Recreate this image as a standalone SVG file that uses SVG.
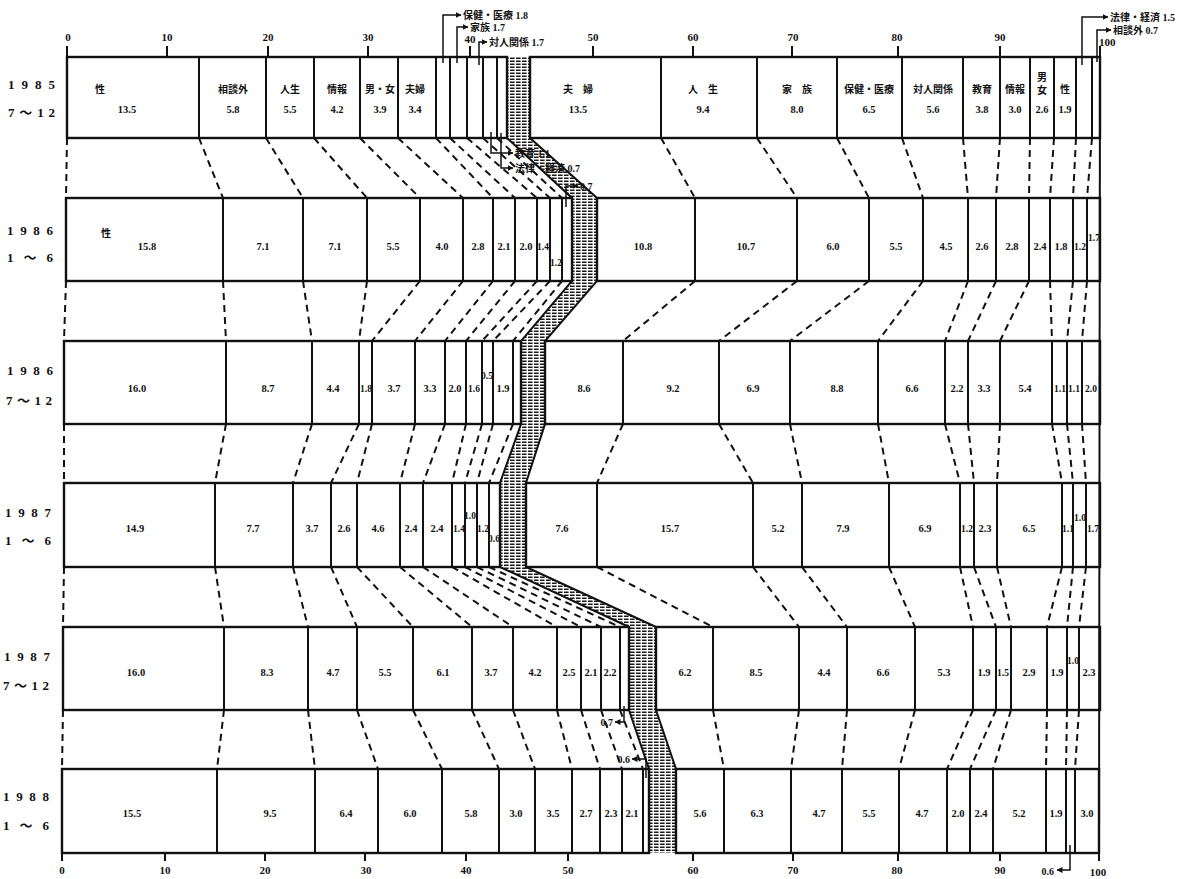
<svg xmlns="http://www.w3.org/2000/svg" width="1193" height="879" viewBox="0 0 1193 879">
<defs>
<pattern id="hatch" width="6" height="3" patternUnits="userSpaceOnUse"><rect x="0" y="0.5" width="4.6" height="1.5" fill="#1a1a1a"/></pattern>
<marker id="arr" viewBox="0 0 6 6" refX="5.5" refY="3" markerWidth="6" markerHeight="6" markerUnits="userSpaceOnUse" orient="auto"><path d="M0,0L6,3L0,6z" fill="#111"/></marker>
<style>
.bar{fill:none;stroke:#111;stroke-width:2.4}
.div{fill:none;stroke:#111;stroke-width:2}
.dash{fill:none;stroke:#111;stroke-width:2;stroke-dasharray:7 5}
.edge{fill:none;stroke:#111;stroke-width:2}
.ann{fill:none;stroke:#111;stroke-width:1.5}
.t{font-family:"Liberation Serif","Noto Sans CJK JP",serif;font-weight:bold;font-size:10.5px;text-anchor:middle;fill:#111}
.s{font-size:9.5px}
.n{font-family:"Noto Sans CJK JP","Liberation Sans",sans-serif;font-weight:bold;font-size:10px;text-anchor:middle;fill:#111}
.a{font-family:"Liberation Serif","Noto Sans CJK JP",serif;font-weight:bold;font-size:10px;fill:#111}
.ax{font-family:"Liberation Serif",serif;font-weight:bold;font-size:11px;text-anchor:middle;fill:#111}
.row{font-family:"Liberation Serif","Noto Sans CJK JP",serif;font-weight:bold;font-size:13px;fill:#111}
</style>
</defs>
<rect width="1193" height="879" fill="#fff"/>

<g id="axis-top">
<path class="div" d="M67 46V57M167 46V57M268 46V57M368 46V57M470 46V57M593 46V57M693 46V57M792 46V57M898 46V57M1000 46V57M1100 46V57"/>
<text class="ax" x="68" y="41">0</text><text class="ax" x="167" y="41">10</text><text class="ax" x="268" y="41">20</text><text class="ax" x="368" y="41">30</text><text class="ax" x="470" y="43">40</text><text class="ax" x="593" y="41">50</text><text class="ax" x="693" y="41">60</text><text class="ax" x="793" y="41">70</text><text class="ax" x="897" y="41">80</text><text class="ax" x="1000" y="41">90</text><text class="ax" x="1099" y="46" style="text-anchor:start">100</text>
</g>

<g id="axis-bottom">
<path class="div" d="M62 853V861M165 853V861M265 853V861M365 853V861M466 853V861M568 853V861M693 853V861M793 853V861M898 853V861M1000 853V861M1099 853V861"/>
<text class="ax" x="62" y="874">0</text><text class="ax" x="165" y="874">10</text><text class="ax" x="265" y="874">20</text><text class="ax" x="366" y="874">30</text><text class="ax" x="466" y="874">40</text><text class="ax" x="568" y="874">50</text><text class="ax" x="693" y="874">60</text><text class="ax" x="793" y="874">70</text><text class="ax" x="897" y="874">80</text><text class="ax" x="1000" y="874">90</text><text class="ax" x="1098" y="876">100</text>
</g>

<g id="no-answer-band">
<polygon points="507,57 507,138 572,198 572,281 521,341 521,424 500,483 500,567 629,627 629,710 649,769 649,853 676,853 676,769 656,710 656,627 526,567 526,483 545,424 545,341 597,281 597,198 530,138 530,57" fill="url(#hatch)"/>
<polyline class="edge" points="507,57 507,138 572,198 572,281 521,341 521,424 500,483 500,567 629,627 629,710 649,769 649,853"/>
<polyline class="edge" points="530,57 530,138 597,198 597,281 545,341 545,424 526,483 526,567 656,627 656,710 676,769 676,853"/>
</g>

<g id="connectors">
<line class="edge" x1="1100" y1="57" x2="1099" y2="853"/>
<path class="dash" d="M67 138L66 198M199 138L223 198M266 138L303 198M314 138L367 198M360 138L420 198M398 138L463 198M436 138L493 198M450 138L515 198M467 138L537 198M483 138L550 198M497 138L562 198M661 138L695 198M757 138L797 198M837 138L869 198M902 138L923 198M963 138L968 198M1000 138L996 198M1030 138L1029 198M1054 138L1050 198M1076 138L1073 198M1092 138L1087 198"/>
<path class="dash" d="M66 281L64 341M223 281L226 341M303 281L312 341M367 281L359 341M420 281L372 341M463 281L415 341M493 281L445 341M515 281L466 341M537 281L482 341M550 281L493 341M562 281L513 341M695 281L623 341M797 281L719 341M869 281L790 341M923 281L878 341M968 281L945 341M996 281L968 341M1029 281L1000 341M1050 281L1052 341M1073 281L1067 341M1087 281L1082 341"/>
<path class="dash" d="M64 424L64 483M226 424L215 483M312 424L293 483M359 424L331 483M372 424L357 483M415 424L400 483M445 424L423 483M466 424L452 483M482 424L465 483M493 424L477 483M513 424L489 483M623 424L597 483M719 424L753 483M790 424L802 483M878 424L889 483M945 424L960 483M968 424L974 483M1000 424L997 483M1052 424L1062 483M1067 424L1073 483M1082 424L1086 483"/>
<path class="dash" d="M64 567L63 627M215 567L224 627M293 567L308 627M331 567L357 627M357 567L413 627M400 567L472 627M423 567L513 627M452 567L557 627M465 567L581 627M477 567L601 627M489 567L620 627M597 567L713 627M753 567L799 627M802 567L847 627M889 567L915 627M960 567L973 627M974 567L996 627M997 567L1011 627M1062 567L1047 627M1073 567L1067 627M1086 567L1079 627"/>
<path class="dash" d="M63 710L62 769M224 710L217 769M308 710L315 769M357 710L378 769M413 710L442 769M472 710L499 769M513 710L535 769M557 710L572 769M581 710L600 769M601 710L622 769M620 710L643 769M713 710L724 769M799 710L791 769M847 710L842 769M915 710L899 769M973 710L947 769M996 710L970 769M1011 710L993 769M1047 710L1046 769M1067 710L1066 769M1079 710L1075 769"/>
</g>

<g id="row-1985-7-12">
<rect class="bar" x="67" y="57" width="440" height="81"/>
<rect class="bar" x="530" y="57" width="570" height="81"/>
<path class="div" d="M199 57V138M266 57V138M314 57V138M360 57V138M398 57V138M436 57V138M450 57V138M467 57V138M483 57V138M497 57V138M661 57V138M757 57V138M837 57V138M902 57V138M963 57V138M1000 57V138M1030 57V138M1054 57V138M1076 57V138M1092 57V138"/>
<text class="row" x="8" y="89" textLength="47" lengthAdjust="spacing">1 9 8 5</text>
<text class="row" x="8" y="117" textLength="47" lengthAdjust="spacing">7 ～ 1 2</text>
<text class="n" x="100" y="93">性</text><text class="t" x="127" y="113">13.5</text>
<text class="n" x="233" y="93">相談外</text><text class="t" x="233" y="113">5.8</text>
<text class="n" x="290" y="93">人生</text><text class="t" x="290" y="113">5.5</text>
<text class="n" x="337" y="93">情報</text><text class="t" x="337" y="113">4.2</text>
<text class="n" x="380" y="93">男・女</text><text class="t" x="380" y="113">3.9</text>
<text class="n" x="415" y="93">夫婦</text><text class="t" x="415" y="113">3.4</text>
<text class="n" x="578" y="93">夫　婦</text><text class="t" x="578" y="113">13.5</text>
<text class="n" x="703" y="93">人　生</text><text class="t" x="703" y="113">9.4</text>
<text class="n" x="797" y="93">家　族</text><text class="t" x="797" y="113">8.0</text>
<text class="n" x="869" y="93">保健・医療</text><text class="t" x="869" y="113">6.5</text>
<text class="n" x="933" y="93">対人関係</text><text class="t" x="933" y="113">5.6</text>
<text class="n" x="982" y="93">教育</text><text class="t" x="982" y="113">3.8</text>
<text class="n" x="1015" y="93">情報</text><text class="t" x="1015" y="113">3.0</text>
<text class="n" x="1042" y="81">男</text><text class="n" x="1042" y="94">女</text><text class="t" x="1042" y="113">2.6</text>
<text class="n" x="1065" y="93">性</text><text class="t" x="1065" y="113">1.9</text>
<polyline class="ann" points="443,63 443,15 461,15" marker-end="url(#arr)"/><text class="a" x="463" y="19">保健・医療 1.8</text>
<polyline class="ann" points="457,63 457,27 468,27" marker-end="url(#arr)"/><text class="a" x="470" y="30.5">家族 1.7</text>
<polyline class="ann" points="479,65 479,42 487,42" marker-end="url(#arr)"/><text class="a" x="489" y="46">対人関係 1.7</text>
<polyline class="ann" points="491,132 491,153 513,153" marker-end="url(#arr)"/><text class="a" x="515" y="157">教育 1.1</text>
<polyline class="ann" points="501,133 501,168 513,168" marker-end="url(#arr)"/><text class="a" x="515" y="172">法律・経済 0.7</text>
<polyline class="ann" points="1082,65 1082,17 1108,17" marker-end="url(#arr)"/><text class="a" x="1110" y="21">法律・経済 1.5</text>
<polyline class="ann" points="1097,62 1097,30 1111,30" marker-end="url(#arr)"/><text class="a" x="1113" y="34">相談外 0.7</text>
</g>

<g id="row-1986-1-6">
<rect class="bar" x="66" y="198" width="506" height="83"/>
<rect class="bar" x="597" y="198" width="503" height="83"/>
<path class="div" d="M223 198V281M303 198V281M367 198V281M420 198V281M463 198V281M493 198V281M515 198V281M537 198V281M550 198V281M562 198V281M695 198V281M797 198V281M869 198V281M923 198V281M968 198V281M996 198V281M1029 198V281M1050 198V281M1073 198V281M1087 198V281"/>
<text class="row" x="7" y="235" textLength="46" lengthAdjust="spacing">1 9 8 6</text>
<text class="row" x="7" y="262" textLength="46" lengthAdjust="spacing">1 ～ 6</text>
<text class="n" x="106" y="237">性</text><text class="t" x="147" y="250">15.8</text>
<text class="t" x="263" y="250">7.1</text><text class="t" x="335" y="250">7.1</text><text class="t" x="393" y="250">5.5</text>
<text class="t" x="442" y="250">4.0</text><text class="t" x="478" y="250">2.8</text><text class="t" x="504" y="250">2.1</text>
<text class="t" x="526" y="250">2.0</text><text class="t s" x="543" y="250">1.4</text><text class="t s" x="556" y="266">1.2</text>
<polyline class="ann" points="566,207 566,186 578,186" marker-end="url(#arr)"/><text class="a" x="580" y="190">0.7</text>
<text class="t" x="643" y="250">10.8</text><text class="t" x="746" y="250">10.7</text><text class="t" x="833" y="250">6.0</text>
<text class="t" x="896" y="250">5.5</text><text class="t" x="946" y="250">4.5</text><text class="t" x="982" y="250">2.6</text>
<text class="t" x="1012" y="250">2.8</text><text class="t" x="1040" y="250">2.4</text><text class="t" x="1061" y="250">1.8</text>
<text class="t s" x="1080" y="250">1.2</text><text class="t s" x="1094" y="241">1.7</text>
</g>

<g id="row-1986-7-12">
<rect class="bar" x="64" y="341" width="457" height="83"/>
<rect class="bar" x="545" y="341" width="555" height="83"/>
<path class="div" d="M226 341V424M312 341V424M359 341V424M372 341V424M415 341V424M445 341V424M466 341V424M482 341V424M493 341V424M513 341V424M623 341V424M719 341V424M790 341V424M878 341V424M945 341V424M968 341V424M1000 341V424M1052 341V424M1067 341V424M1082 341V424"/>
<text class="row" x="7" y="375" textLength="46" lengthAdjust="spacing">1 9 8 6</text>
<text class="row" x="6" y="405" textLength="46" lengthAdjust="spacing">7 ～ 1 2</text>
<text class="t" x="137" y="392">16.0</text><text class="t" x="268" y="392">8.7</text><text class="t" x="333" y="392">4.4</text>
<text class="t s" x="366" y="392">1.8</text><text class="t" x="394" y="392">3.7</text><text class="t" x="430" y="392">3.3</text>
<text class="t" x="455" y="392">2.0</text><text class="t s" x="474" y="392">1.6</text><text class="t s" x="487" y="379">0.5</text>
<text class="t" x="503" y="392">1.9</text>
<text class="t" x="584" y="392">8.6</text><text class="t" x="673" y="392">9.2</text><text class="t" x="753" y="392">6.9</text>
<text class="t" x="837" y="392">8.8</text><text class="t" x="912" y="392">6.6</text><text class="t" x="957" y="392">2.2</text>
<text class="t" x="984" y="392">3.3</text><text class="t" x="1025" y="392">5.4</text><text class="t s" x="1060" y="392">1.1</text>
<text class="t s" x="1074" y="392">1.1</text><text class="t s" x="1091" y="392">2.0</text>
</g>

<g id="row-1987-1-6">
<rect class="bar" x="64" y="483" width="436" height="84"/>
<rect class="bar" x="526" y="483" width="574" height="84"/>
<path class="div" d="M215 483V567M293 483V567M331 483V567M357 483V567M400 483V567M423 483V567M452 483V567M465 483V567M477 483V567M489 483V567M597 483V567M753 483V567M802 483V567M889 483V567M960 483V567M974 483V567M997 483V567M1062 483V567M1073 483V567M1086 483V567"/>
<text class="row" x="5" y="517" textLength="46" lengthAdjust="spacing">1 9 8 7</text>
<text class="row" x="5" y="545" textLength="46" lengthAdjust="spacing">1 ～ 6</text>
<text class="t" x="135" y="532">14.9</text><text class="t" x="253" y="532">7.7</text><text class="t" x="312" y="532">3.7</text>
<text class="t" x="344" y="532">2.6</text><text class="t" x="378" y="532">4.6</text><text class="t" x="411" y="532">2.4</text>
<text class="t" x="437" y="532">2.4</text><text class="t s" x="459" y="532">1.4</text><text class="t s" x="470" y="519">1.0</text>
<text class="t s" x="483" y="532">1.2</text><text class="t s" x="494" y="542">0.6</text>
<text class="t" x="562" y="532">7.6</text><text class="t" x="670" y="532">15.7</text><text class="t" x="778" y="532">5.2</text>
<text class="t" x="843" y="532">7.9</text><text class="t" x="925" y="532">6.9</text><text class="t s" x="967" y="532">1.2</text>
<text class="t" x="985" y="532">2.3</text><text class="t" x="1029" y="532">6.5</text><text class="t s" x="1068" y="532">1.1</text>
<text class="t s" x="1080" y="521">1.0</text><text class="t s" x="1093" y="532">1.7</text>
</g>

<g id="row-1987-7-12">
<rect class="bar" x="63" y="627" width="566" height="83"/>
<rect class="bar" x="656" y="627" width="444" height="83"/>
<path class="div" d="M224 627V710M308 627V710M357 627V710M413 627V710M472 627V710M513 627V710M557 627V710M581 627V710M601 627V710M620 627V710M713 627V710M799 627V710M847 627V710M915 627V710M973 627V710M996 627V710M1011 627V710M1047 627V710M1067 627V710M1079 627V710"/>
<text class="row" x="4" y="661" textLength="46" lengthAdjust="spacing">1 9 8 7</text>
<text class="row" x="3" y="690" textLength="46" lengthAdjust="spacing">7 ～ 1 2</text>
<text class="t" x="136" y="676">16.0</text><text class="t" x="267" y="676">8.3</text><text class="t" x="333" y="676">4.7</text>
<text class="t" x="385" y="676">5.5</text><text class="t" x="443" y="676">6.1</text><text class="t" x="491" y="676">3.7</text>
<text class="t" x="535" y="676">4.2</text><text class="t" x="569" y="676">2.5</text><text class="t" x="591" y="676">2.1</text>
<text class="t" x="610" y="676">2.2</text>
<polyline class="ann" points="624,706 624,722 615,722" marker-end="url(#arr)"/><text class="a" x="613" y="726" style="text-anchor:end">0.7</text>
<text class="t" x="685" y="676">6.2</text><text class="t" x="756" y="676">8.5</text><text class="t" x="824" y="676">4.4</text>
<text class="t" x="883" y="676">6.6</text><text class="t" x="944" y="676">5.3</text><text class="t" x="984" y="676">1.9</text>
<text class="t s" x="1003" y="676">1.5</text><text class="t" x="1029" y="676">2.9</text><text class="t" x="1057" y="676">1.9</text>
<text class="t s" x="1073" y="664">1.0</text><text class="t" x="1089" y="676">2.3</text>
</g>

<g id="row-1988-1-6">
<rect class="bar" x="62" y="769" width="587" height="84"/>
<rect class="bar" x="676" y="769" width="423" height="84"/>
<path class="div" d="M217 769V853M315 769V853M378 769V853M442 769V853M499 769V853M535 769V853M572 769V853M600 769V853M622 769V853M643 769V853M724 769V853M791 769V853M842 769V853M899 769V853M947 769V853M970 769V853M993 769V853M1046 769V853M1066 769V853M1075 769V853"/>
<text class="row" x="3" y="801" textLength="46" lengthAdjust="spacing">1 9 8 8</text>
<text class="row" x="3" y="830" textLength="46" lengthAdjust="spacing">1 ～ 6</text>
<text class="t" x="132" y="817">15.5</text><text class="t" x="270" y="817">9.5</text><text class="t" x="346" y="817">6.4</text>
<text class="t" x="410" y="817">6.0</text><text class="t" x="471" y="817">5.8</text><text class="t" x="516" y="817">3.0</text>
<text class="t" x="553" y="817">3.5</text><text class="t" x="586" y="817">2.7</text><text class="t" x="611" y="817">2.3</text>
<text class="t" x="632" y="817">2.1</text>
<polyline class="ann" points="646,778 646,759 632,759" marker-end="url(#arr)"/><text class="a" x="630" y="763" style="text-anchor:end">0.6</text>
<text class="t" x="700" y="817">5.6</text><text class="t" x="757" y="817">6.3</text><text class="t" x="819" y="817">4.7</text>
<text class="t" x="869" y="817">5.5</text><text class="t" x="922" y="817">4.7</text><text class="t" x="958" y="817">2.0</text>
<text class="t" x="981" y="817">2.4</text><text class="t" x="1019" y="817">5.2</text><text class="t" x="1056" y="817">1.9</text>
<text class="t" x="1087" y="817">3.0</text>
<polyline class="ann" points="1070,845 1070,870 1057,870" marker-end="url(#arr)"/><text class="a" x="1054" y="875" style="text-anchor:end">0.6</text>
</g>
</svg>
